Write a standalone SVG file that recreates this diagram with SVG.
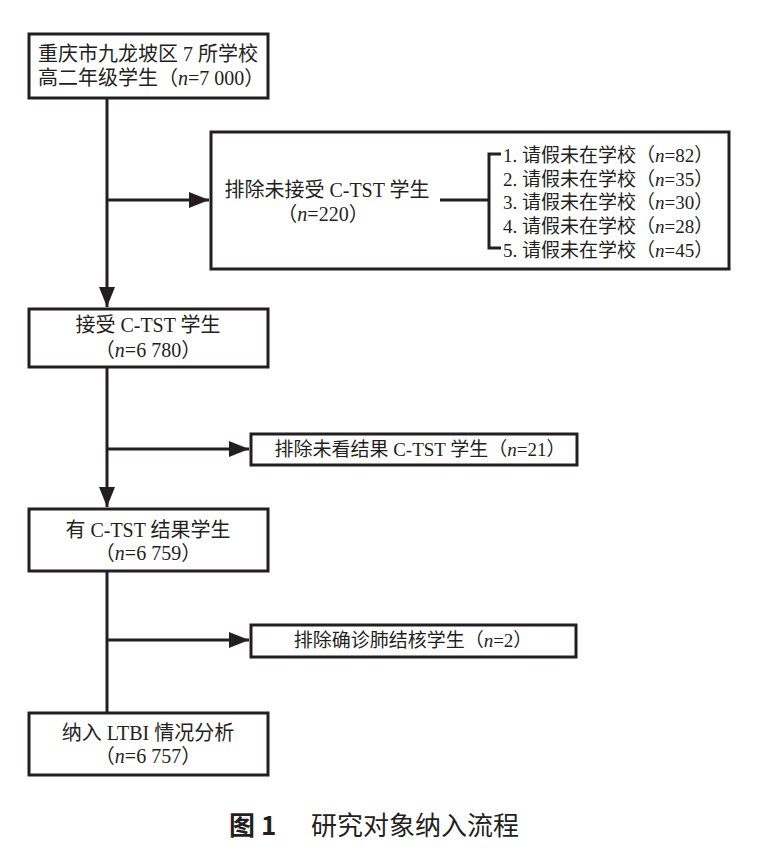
<svg xmlns="http://www.w3.org/2000/svg" width="766" height="864" viewBox="0 0 766 864">
<defs>
<style>
.box{fill:#fff;stroke:#231f20;stroke-width:3}
.ln{fill:none;stroke:#231f20;stroke-width:3}
.t{font-family:"Liberation Serif","Noto Sans CJK SC",serif;font-size:19px;fill:#231f20}
.b{font-size:20px}
.c{text-anchor:middle}
.i{font-style:italic}
.cap{font-family:"Noto Sans CJK SC",sans-serif;font-size:26px;fill:#231f20}
</style>
<marker id="ah" markerUnits="userSpaceOnUse" markerWidth="22" markerHeight="16" refX="20" refY="8" orient="auto">
<path d="M0,0 L20,8 L0,16 Z" fill="#231f20"/>
</marker>
</defs>
<rect width="766" height="864" fill="#fff"/>
<g id="connectors">
<line class="ln" x1="107" y1="99" x2="107" y2="307" marker-end="url(#ah)"/>
<line class="ln" x1="107" y1="200" x2="209" y2="200" marker-end="url(#ah)"/>
<line class="ln" x1="107" y1="367" x2="107" y2="507" marker-end="url(#ah)"/>
<line class="ln" x1="107" y1="449" x2="249" y2="449" marker-end="url(#ah)"/>
<line class="ln" x1="107" y1="571" x2="107" y2="712"/>
<line class="ln" x1="107" y1="640" x2="249" y2="640" marker-end="url(#ah)"/>
</g>
<g id="n1">
<rect class="box" x="29" y="34" width="239" height="64"/>
<text class="t b" x="38" y="61">重庆市九龙坡区 7 所学校</text>
<text class="t b" x="38" y="85">高二年级学生（<tspan class="i">n</tspan>=7 000）</text>
</g>
<g id="n2">
<rect class="box" x="211" y="132" width="518" height="137"/>
<text class="t b c" x="327" y="197">排除未接受 C-TST 学生</text>
<text class="t b c" x="323" y="221">（<tspan class="i">n</tspan>=220）</text>
<path class="ln" d="M440,200 H489 M501,154 H489 V248 H501"/>
<text class="t" x="503" y="162">1. 请假未在学校（<tspan class="i">n</tspan>=82）</text>
<text class="t" x="503" y="186">2. 请假未在学校（<tspan class="i">n</tspan>=35）</text>
<text class="t" x="503" y="209">3. 请假未在学校（<tspan class="i">n</tspan>=30）</text>
<text class="t" x="503" y="233">4. 请假未在学校（<tspan class="i">n</tspan>=28）</text>
<text class="t" x="503" y="257">5. 请假未在学校（<tspan class="i">n</tspan>=45）</text>
</g>
<g id="n3">
<rect class="box" x="29" y="309" width="239" height="58"/>
<text class="t b c" x="148" y="332">接受 C-TST 学生</text>
<text class="t b c" x="148" y="357">（<tspan class="i">n</tspan>=6 780）</text>
</g>
<g id="n4">
<rect class="box" x="251" y="434" width="326" height="31"/>
<text class="t c" x="420" y="456">排除未看结果 C-TST 学生（<tspan class="i">n</tspan>=21）</text>
</g>
<g id="n5">
<rect class="box" x="29" y="509" width="239" height="62"/>
<text class="t b c" x="148" y="537">有 C-TST 结果学生</text>
<text class="t b c" x="148" y="560">（<tspan class="i">n</tspan>=6 759）</text>
</g>
<g id="n6">
<rect class="box" x="251" y="625" width="325" height="32"/>
<text class="t c" x="413" y="647">排除确诊肺结核学生（<tspan class="i">n</tspan>=2）</text>
</g>
<g id="n7">
<rect class="box" x="29" y="713" width="239" height="62"/>
<text class="t b c" x="148" y="740">纳入 LTBI 情况分析</text>
<text class="t b c" x="148" y="763">（<tspan class="i">n</tspan>=6 757）</text>
</g>
<g id="caption">
<text class="cap" x="229" y="835" font-weight="bold">图 1</text>
<text class="cap" x="311" y="835">研究对象纳入流程</text>
</g>
</svg>
